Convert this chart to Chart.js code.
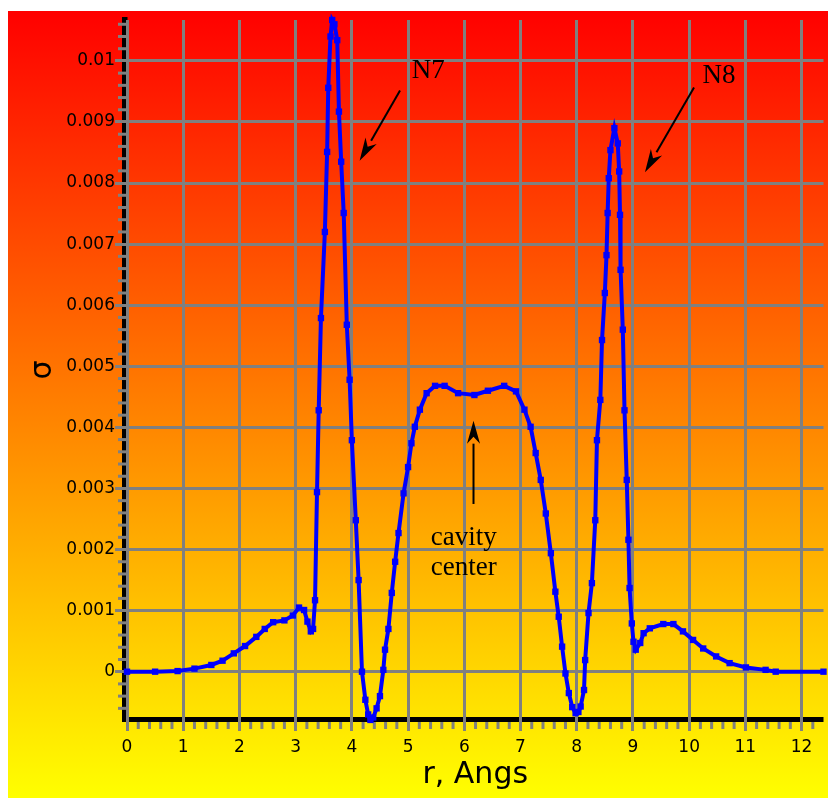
<!DOCTYPE html>
<html>
<head>
<meta charset="utf-8">
<script src="https://cdn.jsdelivr.net/npm/chart.js@4.4.0/dist/chart.umd.min.js"></script>
<style>
  html, body { margin: 0; padding: 0; background: #fff; }
  #wrap { width: 828px; height: 798px; }
</style>
</head>
<body>
<div id="wrap"><canvas id="sigmaChart" width="828" height="798"></canvas></div>
<script>
// r in Angstrom, sigma
const rVals = [
  0, 0.5, 0.9, 1.2, 1.5, 1.7, 1.9, 2.1, 2.3, 2.45, 2.6, 2.8, 2.95, 3.06, 3.15, 3.21, 3.27, 3.31,
  3.345, 3.38, 3.41, 3.45, 3.52, 3.56, 3.58, 3.62, 3.65, 3.69, 3.74, 3.77, 3.81, 3.855, 3.91, 3.96,
  4.0, 4.07, 4.12, 4.18, 4.24, 4.29, 4.33, 4.38, 4.44, 4.5, 4.56, 4.59, 4.65, 4.71, 4.77, 4.83,
  4.92, 5.0, 5.06, 5.12, 5.21, 5.33, 5.48, 5.65, 5.89, 6.18, 6.42, 6.71, 6.92, 7.07, 7.18, 7.27,
  7.36, 7.45, 7.54, 7.62, 7.68, 7.74, 7.8, 7.86, 7.92, 7.98, 8.03, 8.07, 8.13, 8.15, 8.21, 8.27,
  8.33, 8.36, 8.42, 8.45, 8.5, 8.53, 8.55, 8.57, 8.6, 8.67, 8.73, 8.755, 8.77, 8.78, 8.82, 8.85,
  8.89, 8.92, 8.94, 8.98, 9.01, 9.05, 9.13, 9.19, 9.3, 9.54, 9.72, 9.89, 10.07, 10.25, 10.48,
  10.72, 11.01, 11.36, 11.54, 12.39
];
const sigmaVals = [
  0, 0, 0.00001, 0.00005, 0.00011, 0.00018, 0.0003, 0.00042, 0.00057, 0.0007, 0.00081, 0.00084,
  0.00092, 0.00105, 0.00101, 0.00082, 0.00066, 0.0007,
  0.00117, 0.00294, 0.00428, 0.00579, 0.0072, 0.00851, 0.00956, 0.0104, 0.01067, 0.0106, 0.01034,
  0.00917, 0.00835, 0.00751, 0.00568, 0.00478,
  0.00379, 0.00248, 0.0015, 0.0, -0.00046, -0.0007, -0.00079, -0.00075, -0.0006, -0.0004, 0.00003,
  0.00036, 0.0007, 0.00129, 0.0018, 0.00227,
  0.00292, 0.00335, 0.00374, 0.00401, 0.00429, 0.00456, 0.00468, 0.00468, 0.00456, 0.00453,
  0.0046, 0.00468, 0.00459, 0.00429, 0.00401, 0.00358,
  0.00314, 0.00259, 0.00194, 0.00131, 0.0009, 0.00041, -0.00003, -0.00035, -0.00058, -0.00068,
  -0.00066, -0.00057, -0.0003, 0.00019, 0.00096, 0.00145,
  0.00248, 0.00379, 0.00445, 0.00543, 0.0062, 0.00682, 0.00751, 0.00808, 0.00854, 0.0089, 0.00865,
  0.00819, 0.00748, 0.00658, 0.0056, 0.00428,
  0.00314, 0.00216, 0.00137, 0.00079, 0.00049, 0.00036, 0.00047, 0.00063, 0.00071, 0.00078,
  0.00078, 0.00066, 0.00052, 0.00038, 0.00025,
  0.00014, 0.00007, 0.00003, 0, 0
];

const xTickVals = [0, 1, 2, 3, 4, 5, 6, 7, 8, 9, 10, 11, 12];
const yTickVals = [0, 0.001, 0.002, 0.003, 0.004, 0.005, 0.006, 0.007, 0.008, 0.009, 0.01];
const yTickLabels = ['0', '0.001', '0.002', '0.003', '0.004', '0.005', '0.006', '0.007', '0.008', '0.009', '0.01'];

// labels and arrows drawn on top, placed in data units
const noteTexts = ['N7', 'N8', 'cavity', 'center'];
const noteAt = [[5.357, 0.00972], [10.53, 0.00964], [5.99, 0.00207], [5.99, 0.00158]];
const arrows = [
  [4.857, 0.009514, 4.138, 0.008367],
  [10.087, 0.009563, 9.214, 0.008178],
  [6.164, 0.002746, 6.164, 0.00411]
];

const GRID = '#808080';
const tickFont = { family: 'DejaVu Sans', size: 17 };
const titleFont = { family: 'DejaVu Sans', size: 30 };

const backdrop = {
  id: 'backdrop',
  beforeDraw(chart) {
    const { ctx, chartArea: ca } = chart;
    ctx.save();
    const g = ctx.createLinearGradient(0, 11, 0, 798);
    g.addColorStop(0, '#ff0000');
    g.addColorStop(1, '#ffff00');
    ctx.fillStyle = g;
    ctx.fillRect(8, 11, 820, 787);
    // heavy black axes
    ctx.fillStyle = '#000';
    ctx.fillRect(ca.left - 5, ca.top - 3, 5.5, ca.bottom - ca.top + 5);
    ctx.fillRect(ca.left - 5, ca.bottom - 3, ca.right - ca.left + 5, 5);
    ctx.restore();
  },
  beforeDatasetsDraw(chart) {
    const { ctx, chartArea: ca, scales: { x, y } } = chart;
    ctx.save();
    ctx.fillStyle = GRID;
    for (let k = -3; k <= 53; k++) {
      if (k % 5 === 0) continue;
      const py = y.getPixelForValue(k * 0.0002);
      if (py < ca.top || py > ca.bottom) continue;
      ctx.fillRect(ca.left - 9, py - 1.5, 8, 3);
    }
    for (let k = 1; k <= 62; k++) {
      if (k % 5 === 0) continue;
      const px = x.getPixelForValue(k * 0.2);
      if (px > ca.right) continue;
      ctx.fillRect(px - 1.5, ca.bottom + 2, 3, 7);
    }
    ctx.restore();
  },
  afterDatasetsDraw(chart) {
    const { ctx, scales: { x, y } } = chart;
    ctx.save();
    ctx.fillStyle = '#000';
    ctx.font = '27px "Liberation Serif"';
    ctx.textAlign = 'center';
    ctx.textBaseline = 'alphabetic';
    noteTexts.forEach((t, i) => {
      ctx.fillText(t, x.getPixelForValue(noteAt[i][0]), y.getPixelForValue(noteAt[i][1]));
    });
    ctx.strokeStyle = '#000';
    ctx.lineWidth = 2;
    arrows.forEach(a => {
      const x1 = x.getPixelForValue(a[0]), y1 = y.getPixelForValue(a[1]);
      const x2 = x.getPixelForValue(a[2]), y2 = y.getPixelForValue(a[3]);
      const ang = Math.atan2(y2 - y1, x2 - x1);
      const len = 23, half = 6.5;
      const bx = x2 - len * Math.cos(ang), by = y2 - len * Math.sin(ang);
      ctx.beginPath();
      ctx.moveTo(x1, y1);
      ctx.lineTo(bx, by);
      ctx.stroke();
      ctx.beginPath();
      ctx.moveTo(x2, y2);
      ctx.lineTo(bx + half * Math.sin(ang), by - half * Math.cos(ang));
      ctx.lineTo(x2 - 0.7 * len * Math.cos(ang), y2 - 0.7 * len * Math.sin(ang));
      ctx.lineTo(bx - half * Math.sin(ang), by + half * Math.cos(ang));
      ctx.closePath();
      ctx.fill();
    });
    ctx.restore();
  }
};

new Chart(document.getElementById('sigmaChart').getContext('2d'), {
  type: 'line',
  data: {
    datasets: [{
      data: rVals.map((r, i) => ({ x: r, y: sigmaVals[i] })),
      borderColor: '#0000ff',
      borderWidth: 4,
      pointStyle: 'rect',
      pointRadius: 4.5,
      pointBackgroundColor: '#0000ff',
      pointBorderWidth: 0,
      tension: 0,
      clip: false
    }]
  },
  options: {
    responsive: false,
    animation: false,
    devicePixelRatio: 1,
    layout: { padding: { top: 20, right: 0, bottom: 0, left: 0 } },
    plugins: { legend: { display: false }, tooltip: { enabled: false } },
    scales: {
      x: {
        type: 'linear',
        min: 0,
        max: 12.39,
        afterBuildTicks: s => { s.ticks = xTickVals.map(v => ({ value: v })); },
        afterFit: s => { s.height = 78; },
        ticks: { font: tickFont, color: '#000', padding: 6, autoSkip: false, maxRotation: 0 },
        grid: { color: GRID, lineWidth: 3, tickLength: 11, tickColor: GRID },
        border: { display: false },
        title: { display: true, text: 'r, Angs', font: titleFont, color: '#000', padding: { top: 0, bottom: 5 } }
      },
      y: {
        type: 'linear',
        min: -0.000791,
        max: 0.01067,
        afterBuildTicks: s => { s.ticks = yTickVals.map(v => ({ value: v })); },
        afterFit: s => { s.width = 127; },
        ticks: {
          font: tickFont,
          color: '#000',
          padding: 0,
          autoSkip: false,
          callback: (v, i) => yTickLabels[i]
        },
        grid: { color: GRID, lineWidth: 3, tickLength: 12, tickColor: GRID },
        border: { display: false },
        title: { display: true, text: 'σ', font: titleFont, color: '#000', padding: { top: 25, bottom: 0 } }
      }
    }
  },
  plugins: [backdrop]
});
</script>
</body>
</html>
